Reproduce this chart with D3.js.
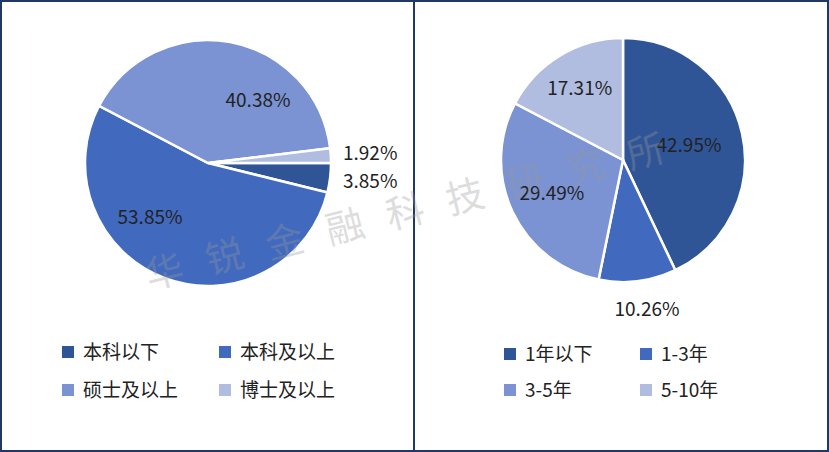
<!DOCTYPE html>
<html><head><meta charset="utf-8">
<script src="https://cdn.jsdelivr.net/npm/d3@7"></script>
<style>body{margin:0;background:#fff;font-family:"Noto Sans CJK SC","Noto Sans",sans-serif}</style>
</head><body><svg id="c" width="829" height="452"></svg>
<script>
const eduLabels = ['本科以下', '本科及以上', '硕士及以上', '博士及以上'];
const eduValues = [3.85, 53.85, 40.38, 1.92];
const expLabels = ['1年以下', '1-3年', '3-5年', '5-10年'];
const expValues = [42.95, 10.26, 29.49, 17.31];
const colors = ['#2f5597', '#4169be', '#7b93d2', '#b0bce0'];

const svg = d3.select('#c');
svg.append('rect').attr('x', 1).attr('y', 1).attr('width', 827).attr('height', 450)
  .attr('fill', 'none').attr('stroke', '#1f3864').attr('stroke-width', 2);
svg.append('line').attr('x1', 414).attr('x2', 414).attr('y1', 1).attr('y2', 451)
  .attr('stroke', '#1f3864').attr('stroke-width', 2);

function drawPie(cx, cy, r, values, labels, start, labelPos, legX, legY) {
  const pie = d3.pie().sort(null).startAngle(start).endAngle(start + 2 * Math.PI)(values);
  const arc = d3.arc().innerRadius(0).outerRadius(r);
  const g = svg.append('g').attr('transform', `translate(${cx},${cy})`);
  g.selectAll('path').data(pie).enter().append('path')
    .attr('d', arc).attr('fill', (d, i) => colors[i])
    .attr('stroke', '#fff').attr('stroke-width', 2.5);
  g.selectAll('text').data(pie).enter().append('text')
    .attr('x', (d, i) => labelPos[i](d)[0]).attr('y', (d, i) => labelPos[i](d)[1])
    .attr('text-anchor', (d, i) => labelPos[i](d)[2] || 'middle')
    .attr('dy', '0.35em').attr('font-size', 19).attr('fill', '#222')
    .text(d => d.data.toFixed(2) + '%');
  const lg = svg.append('g');
  labels.forEach((t, i) => {
    const x = legX[i % 2], y = legY[Math.floor(i / 2)];
    lg.append('rect').attr('x', x).attr('y', y - 6).attr('width', 12).attr('height', 12).attr('fill', colors[i]);
    lg.append('text').attr('x', x + 21).attr('y', y).attr('dy', '0.35em')
      .attr('font-size', 19).attr('fill', '#222').text(t);
  });
}

const at = k => d => d3.arc().innerRadius(0).outerRadius(2 * 123 * k).centroid(d);
drawPie(208, 163, 123, eduValues, eduLabels, Math.PI / 2,
  [d => [135, 18, 'start'], d => [-58, 54], d => [50, -63], d => [135, -10, 'start']],
  [62, 219], [352, 390]);
drawPie(623, 160, 122, expValues, expLabels, 0,
  [at(0.55), d => [24, 149], at(0.64), at(0.68)],
  [504, 640], [354, 390]);

svg.append('text').attr('transform', 'translate(420,222) rotate(-14)')
  .attr('text-anchor', 'middle').attr('font-size', 38).attr('letter-spacing', 24)
  .attr('fill', '#999').attr('opacity', 0.33).text('华锐金融科技研究所');
</script></body></html>
